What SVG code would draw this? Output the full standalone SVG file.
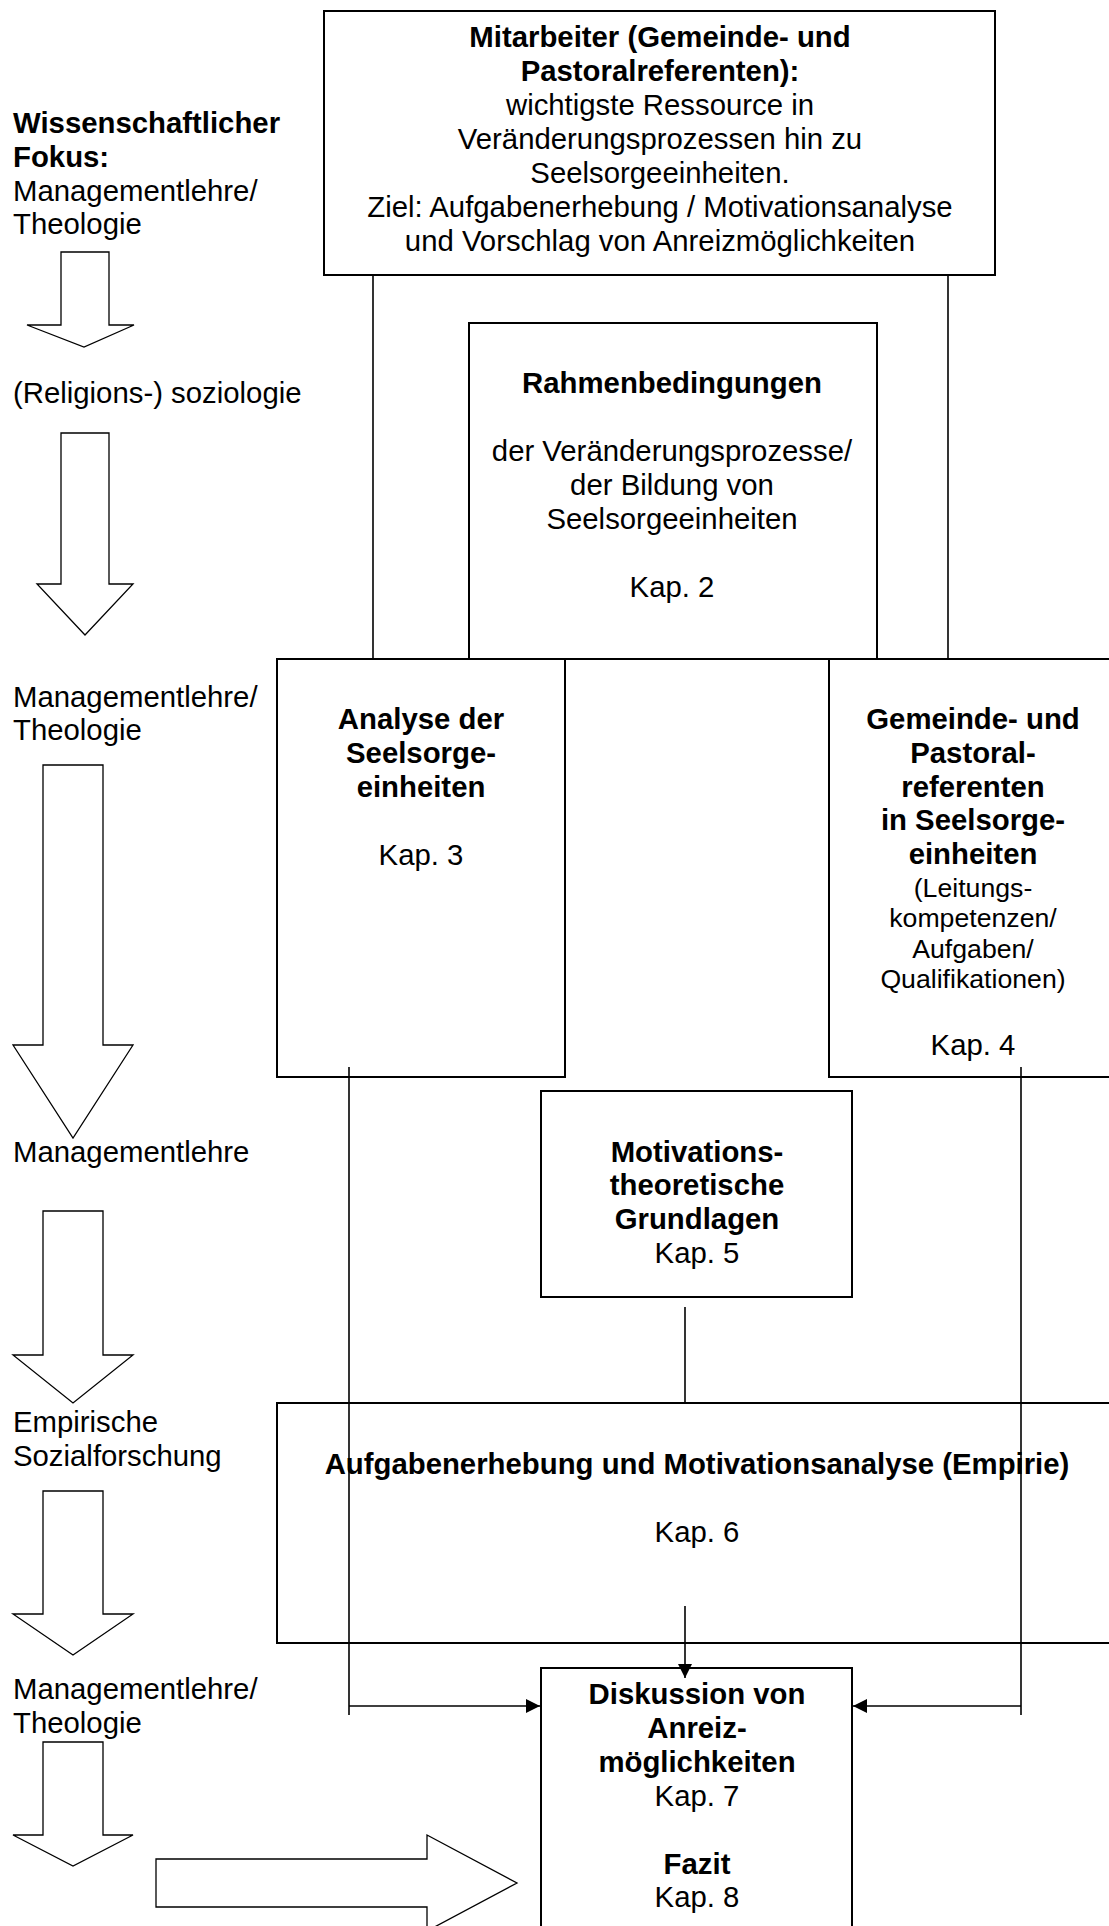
<svg xmlns="http://www.w3.org/2000/svg" width="1109" height="1926" viewBox="0 0 1109 1926">
<style>
  .box { fill: #fff; stroke: #000; stroke-width: 2; }
  .blk { fill: #fff; stroke: #000; stroke-width: 1.3; stroke-linejoin: miter; }
  .con { fill: none; stroke: #000; stroke-width: 1.6; }
  text { font-family: "Liberation Sans", Arial, sans-serif; font-size: 29.33px; fill: #000; }
  .b { font-weight: bold; }
  .c { text-anchor: middle; }
  .s { font-size: 26.67px; }
</style>
<defs>
  <marker id="ah" viewBox="0 0 14 14" refX="14" refY="7" markerWidth="14" markerHeight="14" markerUnits="userSpaceOnUse" orient="auto">
    <path d="M0,0 L14,7 L0,14 z" fill="#000"/>
  </marker>
</defs>
<rect width="1109" height="1926" fill="#fff"/>

<g id="focus-labels">
  <text x="13" y="133" class="b">Wissenschaftlicher</text>
  <text x="13" y="167" class="b">Fokus:</text>
  <text x="13" y="201">Managementlehre/</text>
  <text x="13" y="234">Theologie</text>
  <text x="13" y="403">(Religions-) soziologie</text>
  <text x="13" y="707">Managementlehre/</text>
  <text x="13" y="740">Theologie</text>
  <text x="13" y="1162">Managementlehre</text>
  <text x="13" y="1432">Empirische</text>
  <text x="13" y="1466">Sozialforschung</text>
  <text x="13" y="1699">Managementlehre/</text>
  <text x="13" y="1733">Theologie</text>
</g>

<g id="flow-arrows">
  <polygon class="blk" points="61,252 109,252 109,325 134,325 84,347 27,325 61,325"/>
  <polygon class="blk" points="61,433 109,433 109,584 133,584 85,635 37,584 61,584"/>
  <polygon class="blk" points="43,765 103,765 103,1045 133,1045 73,1138 13,1045 43,1045"/>
  <polygon class="blk" points="43,1211 103,1211 103,1355 133,1355 73,1403 13,1355 43,1355"/>
  <polygon class="blk" points="43,1491 103,1491 103,1614 133,1614 73,1655 13,1614 43,1614"/>
  <polygon class="blk" points="43,1742 103,1742 103,1835 133,1835 73,1866 13,1835 43,1835"/>
  <polygon class="blk" points="156,1859 427,1859 427,1835 517,1883 427,1931 427,1907 156,1907"/>
</g>

<g id="n-mitarbeiter">
  <rect class="box" x="324" y="11" width="671" height="264"/>
  <text x="660" y="47" class="b c">Mitarbeiter (Gemeinde- und</text>
  <text x="660" y="81" class="b c">Pastoralreferenten):</text>
  <text x="660" y="115" class="c">wichtigste Ressource in</text>
  <text x="660" y="149" class="c">Veränderungsprozessen hin zu</text>
  <text x="660" y="183" class="c">Seelsorgeeinheiten.</text>
  <text x="660" y="217" class="c">Ziel: Aufgabenerhebung / Motivationsanalyse</text>
  <text x="660" y="251" class="c">und Vorschlag von Anreizmöglichkeiten</text>
</g>

<g id="n-rahmen">
  <rect class="box" x="469" y="323" width="408" height="336"/>
  <text x="672" y="393" class="b c">Rahmenbedingungen</text>
  <text x="672" y="461" class="c">der Veränderungsprozesse/</text>
  <text x="672" y="495" class="c">der Bildung von</text>
  <text x="672" y="529" class="c">Seelsorgeeinheiten</text>
  <text x="672" y="597" class="c">Kap. 2</text>
</g>

<g id="n-analyse">
  <rect class="box" x="277" y="659" width="288" height="418"/>
  <text x="421" y="729" class="b c">Analyse der</text>
  <text x="421" y="763" class="b c">Seelsorge-</text>
  <text x="421" y="797" class="b c">einheiten</text>
  <text x="421" y="865" class="c">Kap. 3</text>
</g>

<g id="n-gemeinde">
  <rect class="box" x="829" y="659" width="290" height="418"/>
  <text x="973" y="729" class="b c">Gemeinde- und</text>
  <text x="973" y="763" class="b c">Pastoral-</text>
  <text x="973" y="797" class="b c">referenten</text>
  <text x="973" y="830" class="b c">in Seelsorge-</text>
  <text x="973" y="864" class="b c">einheiten</text>
  <text x="973" y="897" class="c s">(Leitungs-</text>
  <text x="973" y="927" class="c s">kompetenzen/</text>
  <text x="973" y="958" class="c s">Aufgaben/</text>
  <text x="973" y="988" class="c s">Qualifikationen)</text>
  <text x="973" y="1055" class="c">Kap. 4</text>
</g>

<g id="n-motivation">
  <rect class="box" x="541" y="1091" width="311" height="206"/>
  <text x="697" y="1162" class="b c">Motivations-</text>
  <text x="697" y="1195" class="b c">theoretische</text>
  <text x="697" y="1229" class="b c">Grundlagen</text>
  <text x="697" y="1263" class="c">Kap. 5</text>
</g>

<g id="n-empirie">
  <rect class="box" x="277" y="1403" width="842" height="240"/>
  <text x="697" y="1474" class="b c">Aufgabenerhebung und Motivationsanalyse (Empirie)</text>
  <text x="697" y="1542" class="c">Kap. 6</text>
</g>

<g id="n-diskussion">
  <rect class="box" x="541" y="1668" width="311" height="280"/>
  <text x="697" y="1704" class="b c">Diskussion von</text>
  <text x="697" y="1738" class="b c">Anreiz-</text>
  <text x="697" y="1772" class="b c">möglichkeiten</text>
  <text x="697" y="1806" class="c">Kap. 7</text>
  <text x="697" y="1874" class="b c">Fazit</text>
  <text x="697" y="1907" class="c">Kap. 8</text>
</g>

<g id="connectors">
  <line class="con" x1="373" y1="275" x2="373" y2="659"/>
  <line class="con" x1="948" y1="275" x2="948" y2="659"/>
  <line class="con" x1="685" y1="1307" x2="685" y2="1403"/>
  <line class="con" x1="685" y1="1606" x2="685" y2="1678" marker-end="url(#ah)"/>
  <line class="con" x1="349" y1="1067" x2="349" y2="1715"/>
  <line class="con" x1="349" y1="1706" x2="540" y2="1706" marker-end="url(#ah)"/>
  <line class="con" x1="1021" y1="1067" x2="1021" y2="1715"/>
  <line class="con" x1="1021" y1="1706" x2="853" y2="1706" marker-end="url(#ah)"/>
</g>
</svg>
